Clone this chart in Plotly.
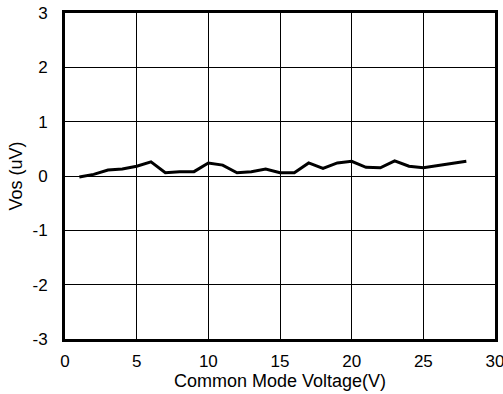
import plotly.graph_objects as go

# Input offset voltage vs. common mode voltage
cm_voltage = [1, 2, 3, 4, 5, 6, 7, 8, 9, 10, 11, 12, 13, 14, 15, 16, 17, 18, 19, 20,
              21, 22, 23, 24, 25, 26, 27, 28]
vos_uv = [-0.02, 0.03, 0.11, 0.13, 0.18, 0.26, 0.06, 0.08, 0.08, 0.24, 0.2, 0.06, 0.08,
          0.13, 0.06, 0.06, 0.24, 0.14, 0.24, 0.27, 0.16, 0.15, 0.28, 0.18, 0.15, 0.19,
          0.23, 0.27]

x_ticks = [0, 5, 10, 15, 20, 25, 30]
y_ticks = [-3, -2, -1, 0, 1, 2, 3]
y_tick_text = ["-3", "-2", "-1", "0", "1", "2", "3"]

fig = go.Figure()
fig.add_trace(go.Scatter(
    x=cm_voltage, y=vos_uv, mode="lines",
    line=dict(color="black", width=3),
    showlegend=False,
))

family = "Liberation Sans, Arial, sans-serif"
tick_font = dict(family=family, size=17, color="black")
title_font = dict(family=family, size=18, color="black")
axis_common = dict(
    showline=True, linecolor="black", linewidth=3, mirror=True,
    showgrid=True, gridcolor="black", gridwidth=1,
    zeroline=False, ticks="", tickfont=tick_font, automargin=False,
    ticklabeloverflow="allow",
)

fig.update_layout(
    width=503, height=394,
    margin=dict(l=65, r=8, t=13, b=55),
    paper_bgcolor="white", plot_bgcolor="white",
    font=tick_font,
    xaxis=dict(range=[0, 30], tickvals=x_ticks, ticklabelstandoff=5,
               title=dict(text="Common Mode Voltage(V)", font=title_font, standoff=0),
               **axis_common),
    yaxis=dict(range=[-3, 3], tickvals=y_ticks, ticktext=y_tick_text,
               ticklabelstandoff=11,
               title=dict(text="Vos (uV)", font=title_font, standoff=6),
               **axis_common),
)

fig.write_html("out.html")
